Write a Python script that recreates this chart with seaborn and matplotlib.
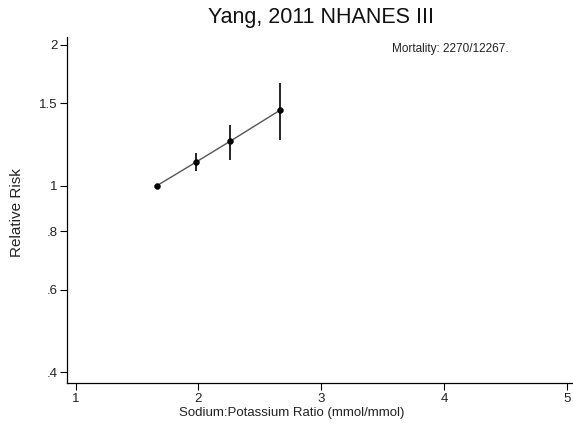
import matplotlib
matplotlib.use("Agg")
import matplotlib.pyplot as plt
import seaborn as sns
import pandas as pd
from matplotlib.ticker import FixedLocator, NullLocator

sns.set_theme(style="ticks")
plt.rcParams['font.family'] = ['Liberation Sans', 'DejaVu Sans']
plt.rcParams['text.color'] = 'black'

ratio = [1.66, 1.98, 2.255, 2.66]
rr = [1.0, 1.124, 1.244, 1.449]
rr_low = [1.0, 1.077, 1.137, 1.254]
rr_high = [1.0, 1.175, 1.35, 1.66]
y_ticks = [0.4, 0.6, 0.8, 1, 1.5, 2]
y_labels = [".4", ".6", ".8", "1", "1.5", "2"]
x_ticks = [1, 2, 3, 4, 5]

df = pd.DataFrame({"ratio": ratio, "rr": rr})

fig = plt.figure(figsize=(5.73, 4.23), dpi=100)
ax = fig.add_axes([67/573, 1-383/423, 505/573, (383-37)/423])

sns.lineplot(data=df, x="ratio", y="rr", ax=ax, color="#555555", lw=1.0)
yerr = [[r - l for r, l in zip(rr, rr_low)], [h - r for r, h in zip(rr, rr_high)]]
ax.errorbar(ratio, rr, yerr=yerr, fmt="none", ecolor="black", elinewidth=1.2, capsize=0)
sns.scatterplot(data=df, x="ratio", y="rr", ax=ax, color="black", s=18, edgecolor="black", zorder=5)

ax.set_yscale("log")
ax.set_ylim(0.379, 2.08)
ax.set_xlim(0.93, 5.04)
ax.yaxis.set_major_locator(FixedLocator(y_ticks))
ax.yaxis.set_minor_locator(NullLocator())
ax.set_yticklabels(y_labels)
ax.set_xticks(x_ticks)
ax.set_xticklabels([str(t) for t in x_ticks])
ax.tick_params(axis="both", direction="out", length=5, width=0.8, colors="black",
               labelcolor="#222222", labelsize=9.5, pad=2)
for s in ["top", "right"]:
    ax.spines[s].set_visible(False)
for s in ["left", "bottom"]:
    ax.spines[s].set_color("black")
    ax.spines[s].set_linewidth(0.9)
ax.set_xlabel("")
ax.set_ylabel("")

fig.text(321/573, 1-18/423, "Yang, 2011 NHANES III", ha="center", va="center", fontsize=15.5, color="#111111")
fig.text(450/573, 1-49/423, "Mortality: 2270/12267.", ha="center", va="center", fontsize=8.5, color="#222222")
fig.text(292/573, 1-413/423, "Sodium:Potassium Ratio (mmol/mmol)", ha="center", va="center", fontsize=9.5, color="#222222")
fig.text(17/573, 1-213/423, "Relative Risk", ha="center", va="center", fontsize=11, rotation=90, color="#222222")

fig.savefig("out.png", dpi=100)
